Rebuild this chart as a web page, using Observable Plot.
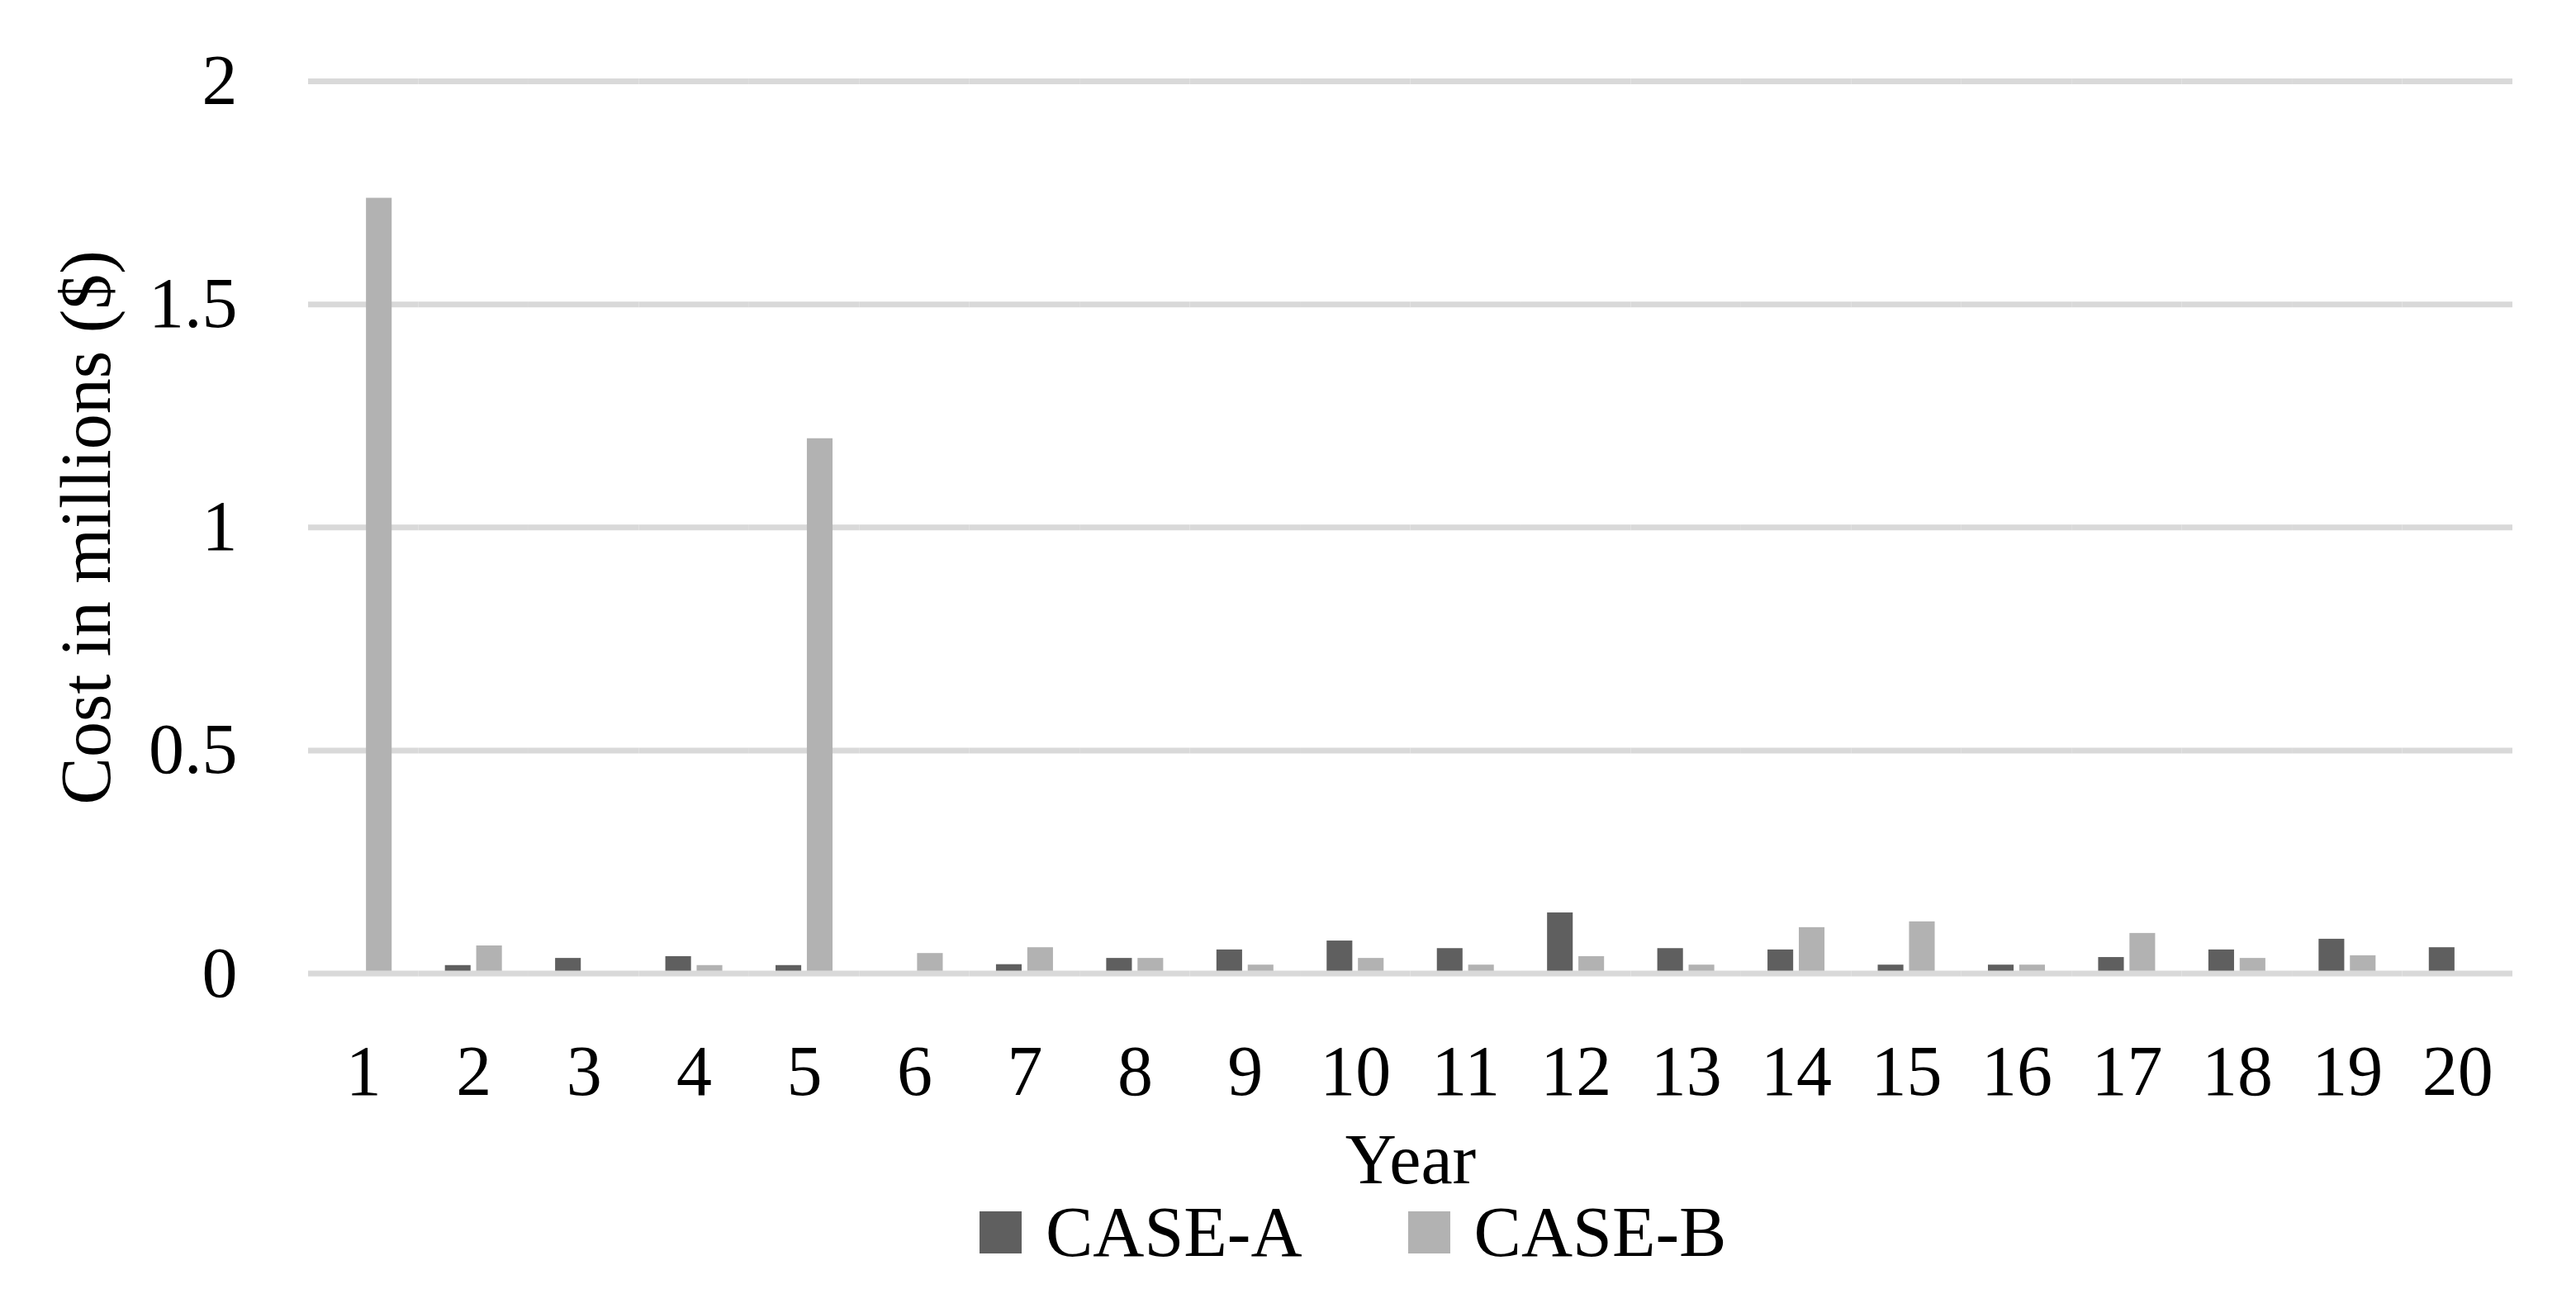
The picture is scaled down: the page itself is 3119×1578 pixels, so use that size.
<!DOCTYPE html>
<html>
<head>
<meta charset="utf-8">
<script src="https://cdn.jsdelivr.net/npm/d3@7"></script>
<script src="https://cdn.jsdelivr.net/npm/@observablehq/plot@0.6"></script>
<style>
  html, body { margin: 0; padding: 0; background: white; }
  #chart svg { display: block; }
  #legend { display: flex; align-items: center; height: 84px; margin-top: -20px; padding-left: 1186px;
            position: relative;
            font-family: "Liberation Serif", serif; font-size: 86px; line-height: 84px; color: black; }
  .sw { width: 51px; height: 51px; margin-right: 29px; }
  .item { display: flex; align-items: center; margin-right: 128px; }
</style>
</head>
<body>
<div id="chart"></div>
<div id="legend"></div>
<script>
const years = [1, 2, 3, 4, 5, 6, 7, 8, 9, 10, 11, 12, 13, 14, 15, 16, 17, 18, 19, 20];
const seriesNames = ["CASE-A", "CASE-B"];
const seriesColors = ["#5f5f5f", "#b2b2b2"];
const caseA = [0, 0.018, 0.034, 0.038, 0.018, 0, 0.02, 0.034, 0.053, 0.073, 0.056, 0.136, 0.056, 0.053, 0.019, 0.019, 0.036, 0.053, 0.077, 0.058];
const caseB = [1.738, 0.062, 0, 0.018, 1.199, 0.045, 0.058, 0.034, 0.019, 0.034, 0.019, 0.038, 0.019, 0.103, 0.116, 0.019, 0.09, 0.034, 0.04, 0];
const yTicks = [0, 0.5, 1, 1.5, 2];

const table = [];
years.forEach((yr, i) => {
  table.push({year: yr, series: seriesNames[0], value: caseA[i]});
  table.push({year: yr, series: seriesNames[1], value: caseB[i]});
});

const H = 1470;
const chart = Plot.plot({
  width: 3119,
  height: H,
  marginLeft: 373,
  marginRight: 77,
  marginTop: 98,
  marginBottom: H - 1178.5,
  style: {fontFamily: "Liberation Serif", fontSize: "86px", color: "black", background: "transparent"},
  fx: {domain: years, padding: 0, round: false, axis: "bottom", tickSize: 0, tickPadding: 86,
       label: "Year", labelAnchor: "center", labelOffset: 254, labelArrow: false},
  x: {domain: seriesNames, paddingInner: 0.18, paddingOuter: 0.85, round: false, axis: null},
  y: {domain: [0, 2], ticks: yTicks, tickSize: 0, tickPadding: 86, tickFormat: d => String(d),
      label: "Cost in millions ($)", labelAnchor: "center", labelOffset: 302, labelArrow: false},
  color: {domain: seriesNames, range: seriesColors},
  marks: [
    Plot.ruleY(yTicks.filter(d => d > 0), {stroke: "#d9d9d9", strokeWidth: 7}),
    Plot.barY(table, {fx: "year", x: "series", y: "value", fill: "series"}),
    Plot.ruleY([0], {stroke: "#d9d9d9", strokeWidth: 7})
  ]
});
document.getElementById("chart").appendChild(chart);

const legend = document.getElementById("legend");
seriesNames.forEach((name, i) => {
  const item = document.createElement("div");
  item.className = "item";
  const sw = document.createElement("div");
  sw.className = "sw";
  sw.style.background = seriesColors[i];
  const label = document.createElement("span");
  label.textContent = name;
  item.appendChild(sw);
  item.appendChild(label);
  legend.appendChild(item);
});
</script>
</body>
</html>
